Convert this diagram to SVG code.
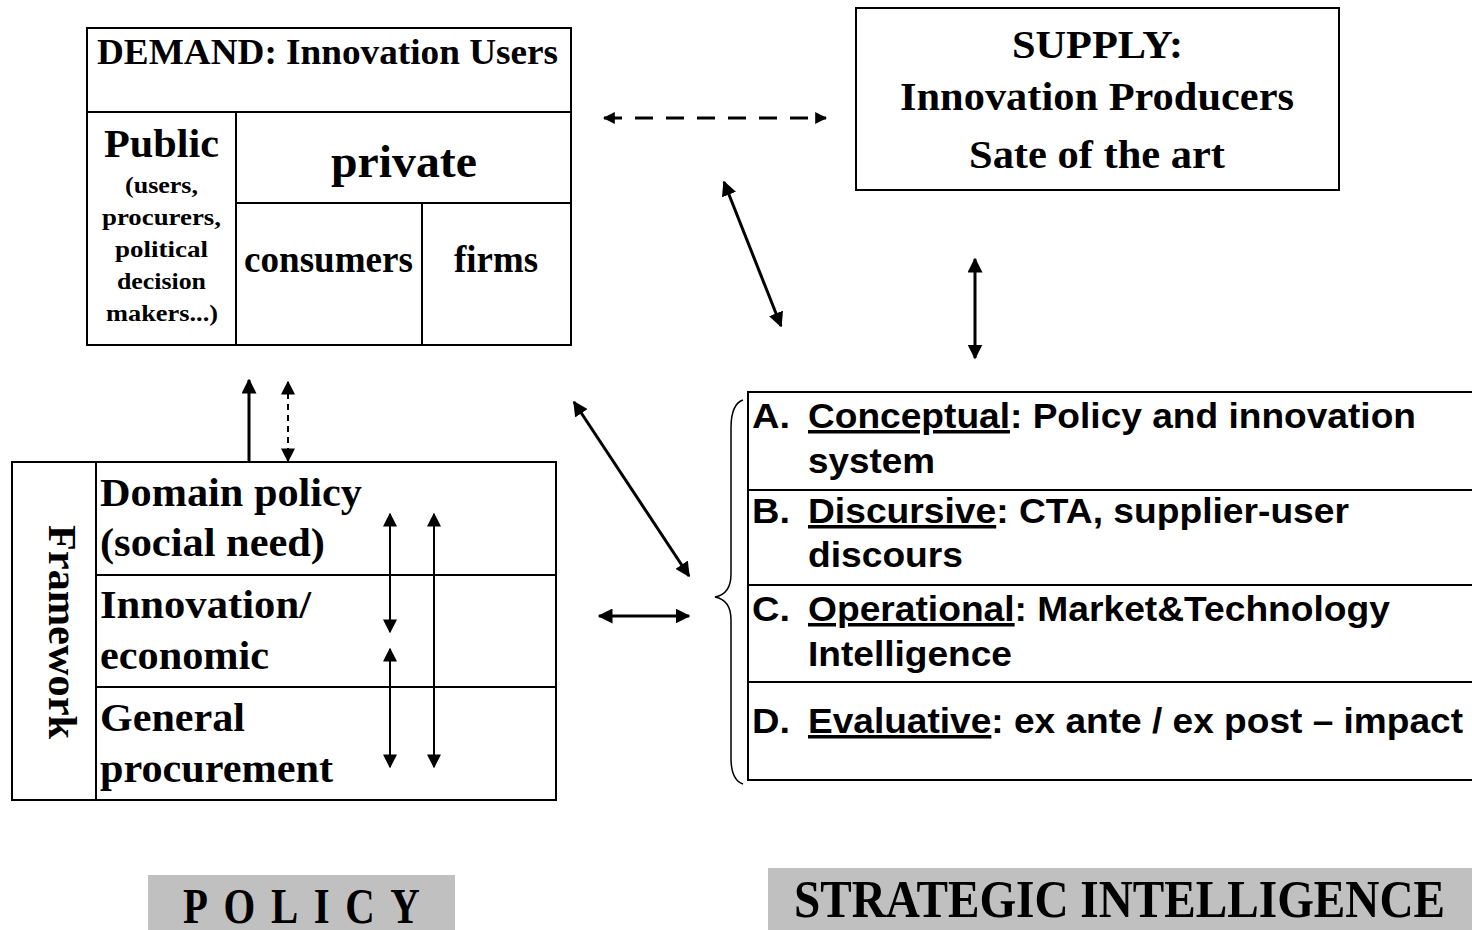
<svg xmlns="http://www.w3.org/2000/svg" width="1472" height="930" viewBox="0 0 1472 930">
  <style>
    .box { fill: #ffffff; stroke: #000000; stroke-width: 2; }
    .ln { stroke: #000000; stroke-width: 2; fill: none; }
    .serif { font-family: "Liberation Serif", "Times New Roman", serif; font-weight: bold; fill: #000000; }
    .sans { font-family: "Liberation Sans", Arial, sans-serif; font-weight: bold; fill: #000000; font-size: 35px; }
    .conn { stroke: #000000; stroke-width: 3; fill: none; }
    .thin { stroke: #000000; stroke-width: 2; fill: none; }
    .label { fill: #c0c0c0; }
  </style>
  <defs>
    <marker id="ah" viewBox="0 0 10 10" refX="9" refY="5" markerWidth="5" markerHeight="5" orient="auto-start-reverse" markerUnits="strokeWidth">
      <path d="M0,0 L10,5 L0,10 z" fill="#000"/>
    </marker>
    <marker id="ahd" viewBox="0 0 10 10" refX="9" refY="5" markerWidth="4" markerHeight="4" orient="auto-start-reverse" markerUnits="strokeWidth">
      <path d="M0,0 L10,5 L0,10 z" fill="#000"/>
    </marker>
    <marker id="ahs" viewBox="0 0 10 10" refX="9" refY="5" markerWidth="7" markerHeight="7" orient="auto-start-reverse" markerUnits="strokeWidth">
      <path d="M0,0 L10,5 L0,10 z" fill="#000"/>
    </marker>
  </defs>

  <rect width="1472" height="930" fill="#ffffff"/>

  <!-- Demand node -->
  <g id="demand">
    <rect class="box" x="87" y="28" width="484" height="317"/>
    <line class="ln" x1="87" y1="112" x2="571" y2="112"/>
    <line class="ln" x1="236" y1="112" x2="236" y2="345"/>
    <line class="ln" x1="236" y1="203" x2="571" y2="203"/>
    <line class="ln" x1="422" y1="203" x2="422" y2="345"/>
    <text class="serif" x="97" y="64" font-size="35" textLength="461" lengthAdjust="spacingAndGlyphs">DEMAND: Innovation Users</text>
    <text class="serif" x="104" y="157" font-size="41" textLength="115" lengthAdjust="spacingAndGlyphs">Public</text>
    <g class="serif" font-size="24">
      <text x="125" y="193" textLength="73" lengthAdjust="spacingAndGlyphs">(users,</text>
      <text x="102" y="225" textLength="119" lengthAdjust="spacingAndGlyphs">procurers,</text>
      <text x="115" y="257" textLength="93" lengthAdjust="spacingAndGlyphs">political</text>
      <text x="117" y="289" textLength="89" lengthAdjust="spacingAndGlyphs">decision</text>
      <text x="106" y="321" textLength="112" lengthAdjust="spacingAndGlyphs">makers...)</text>
    </g>
    <text class="serif" x="331" y="177" font-size="47" textLength="146" lengthAdjust="spacingAndGlyphs">private</text>
    <text class="serif" x="244" y="272" font-size="37" textLength="169" lengthAdjust="spacingAndGlyphs">consumers</text>
    <text class="serif" x="454" y="272" font-size="37" textLength="84" lengthAdjust="spacingAndGlyphs">firms</text>
  </g>

  <!-- Supply node -->
  <g id="supply">
    <rect class="box" x="856" y="8" width="483" height="182"/>
    <g class="serif" font-size="41">
      <text x="1012" y="58" textLength="171" lengthAdjust="spacingAndGlyphs">SUPPLY:</text>
      <text x="900" y="110" textLength="394" lengthAdjust="spacingAndGlyphs">Innovation Producers</text>
      <text x="969" y="168" textLength="256" lengthAdjust="spacingAndGlyphs">Sate of the art</text>
    </g>
  </g>

  <!-- Framework node -->
  <g id="framework">
    <rect class="box" x="12" y="462" width="544" height="338"/>
    <line class="ln" x1="96" y1="462" x2="96" y2="800"/>
    <line class="ln" x1="96" y1="575" x2="556" y2="575"/>
    <line class="ln" x1="96" y1="687" x2="556" y2="687"/>
    <text class="serif" font-size="41" x="-106" y="0" textLength="214" lengthAdjust="spacingAndGlyphs" transform="translate(49,631) rotate(90)">Framework</text>
    <g class="serif" font-size="41">
      <text x="100" y="506" textLength="262" lengthAdjust="spacingAndGlyphs">Domain policy</text>
      <text x="100" y="556" textLength="225" lengthAdjust="spacingAndGlyphs">(social need)</text>
      <text x="100" y="618" textLength="211" lengthAdjust="spacingAndGlyphs">Innovation/</text>
      <text x="100" y="669" textLength="169" lengthAdjust="spacingAndGlyphs">economic</text>
      <text x="100" y="731" textLength="145" lengthAdjust="spacingAndGlyphs">General</text>
      <text x="100" y="782" textLength="233" lengthAdjust="spacingAndGlyphs">procurement</text>
    </g>
  </g>

  <!-- Strategic intelligence node -->
  <g id="intelligence">
    <path class="thin" d="M1472,392 L748,392 L748,780 L1472,780"/>
    <line class="ln" x1="748" y1="490" x2="1472" y2="490"/>
    <line class="ln" x1="748" y1="585" x2="1472" y2="585"/>
    <line class="ln" x1="748" y1="682" x2="1472" y2="682"/>
    <path d="M743,400 Q731,404 731,428 L731,574 Q731,594 715,597 Q731,600 731,620 L731,758 Q731,780 743,784" fill="none" stroke="#000" stroke-width="1.5"/>
    <g class="sans">
      <text x="752" y="428" textLength="38" lengthAdjust="spacingAndGlyphs">A.</text>
      <text x="808" y="428" textLength="608" lengthAdjust="spacingAndGlyphs"><tspan text-decoration="underline">Conceptual</tspan>: Policy and innovation</text>
      <text x="808" y="473" textLength="127" lengthAdjust="spacingAndGlyphs">system</text>
      <text x="752" y="523" textLength="38" lengthAdjust="spacingAndGlyphs">B.</text>
      <text x="808" y="523" textLength="541" lengthAdjust="spacingAndGlyphs"><tspan text-decoration="underline">Discursive</tspan>: CTA, supplier-user</text>
      <text x="808" y="567" textLength="155" lengthAdjust="spacingAndGlyphs">discours</text>
      <text x="752" y="621" textLength="38" lengthAdjust="spacingAndGlyphs">C.</text>
      <text x="808" y="621" textLength="582" lengthAdjust="spacingAndGlyphs"><tspan text-decoration="underline">Operational</tspan>: Market&amp;Technology</text>
      <text x="808" y="666" textLength="204" lengthAdjust="spacingAndGlyphs">Intelligence</text>
      <text x="752" y="733" textLength="38" lengthAdjust="spacingAndGlyphs">D.</text>
      <text x="808" y="733" textLength="655" lengthAdjust="spacingAndGlyphs"><tspan text-decoration="underline">Evaluative</tspan>: ex ante / ex post – impact</text>
    </g>
  </g>

  <!-- Connectors -->
  <g id="connectors">
    <line class="conn" x1="604" y1="118" x2="826" y2="118" stroke-width="4" stroke-dasharray="18,13" marker-start="url(#ahd)" marker-end="url(#ahd)"/>
    <line class="conn" x1="724" y1="182" x2="781" y2="326" marker-start="url(#ah)" marker-end="url(#ah)"/>
    <line class="conn" x1="975" y1="259" x2="975" y2="358" marker-start="url(#ah)" marker-end="url(#ah)"/>
    <line class="conn" x1="249" y1="380" x2="249" y2="462" marker-start="url(#ah)"/>
    <line class="thin" x1="288" y1="382" x2="288" y2="461" stroke-dasharray="6,5" marker-start="url(#ahs)" marker-end="url(#ahs)"/>
    <line class="conn" x1="574" y1="402" x2="689" y2="576" marker-start="url(#ah)" marker-end="url(#ah)"/>
    <line class="conn" x1="599" y1="616" x2="689" y2="616" marker-start="url(#ah)" marker-end="url(#ah)"/>
    <line class="thin" x1="390" y1="514" x2="390" y2="632" marker-start="url(#ahs)" marker-end="url(#ahs)"/>
    <line class="thin" x1="390" y1="649" x2="390" y2="767" marker-start="url(#ahs)" marker-end="url(#ahs)"/>
    <line class="thin" x1="434" y1="514" x2="434" y2="767" marker-start="url(#ahs)" marker-end="url(#ahs)"/>
  </g>

  <!-- Section labels -->
  <g id="policy-label">
    <rect class="label" x="148" y="875" width="307" height="55"/>
    <text class="serif" x="0" y="0" font-size="51" textLength="296" lengthAdjust="spacing" transform="translate(183,923) scale(0.8,1)">POLICY</text>
  </g>
  <g id="si-label">
    <rect class="label" x="768" y="868" width="704" height="62"/>
    <text class="serif" x="794" y="917" font-size="52" textLength="651" lengthAdjust="spacingAndGlyphs">STRATEGIC INTELLIGENCE</text>
  </g>
</svg>
